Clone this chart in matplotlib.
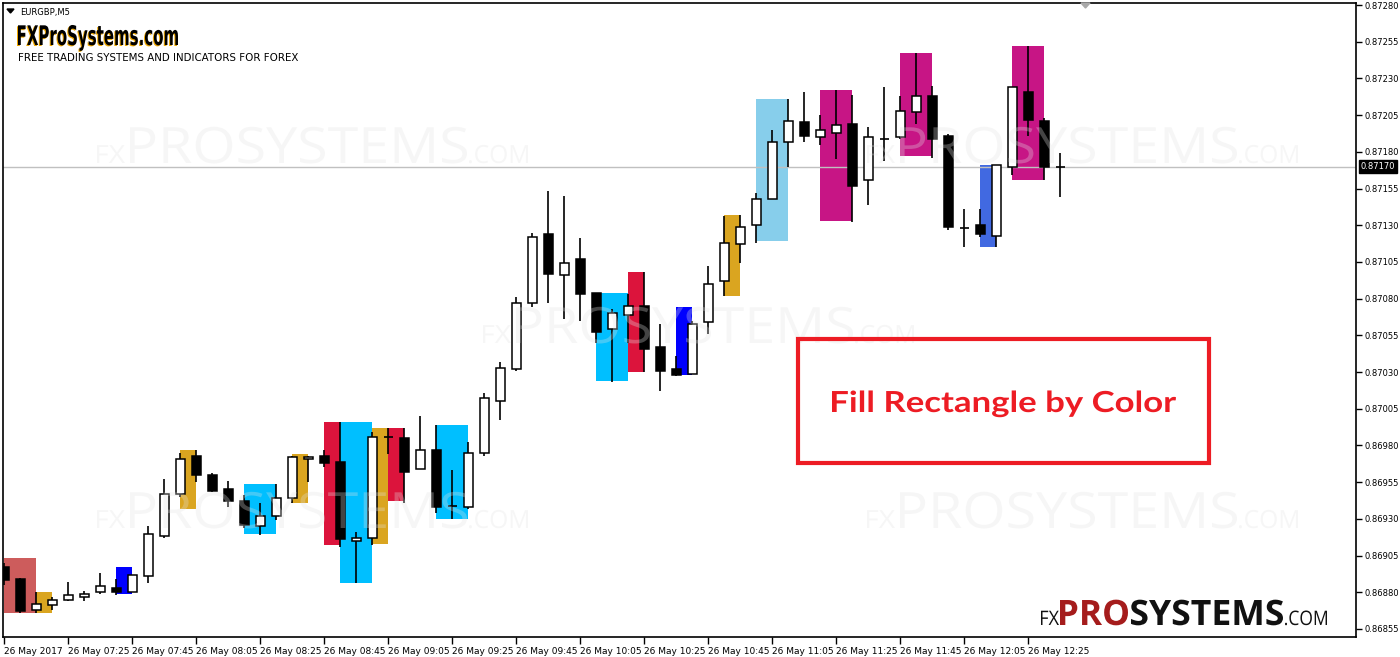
import numpy as np
import matplotlib
matplotlib.use("Agg")
import matplotlib.pyplot as plt
from matplotlib.patches import Rectangle, Polygon, PathPatch
from matplotlib.textpath import TextPath
from matplotlib.font_manager import FontProperties
from matplotlib.transforms import Affine2D

# EURGBP M5 candles, 26 May 2017 07:05 .. 12:35
opens = [0.86897, 0.86889, 0.86868, 0.86871, 0.86875, 0.86877, 0.86880, 0.86883, 0.86880, 0.86891,
         0.86918, 0.86947, 0.86973, 0.86960, 0.86950, 0.86942, 0.86925, 0.86932, 0.86944, 0.86971,
         0.86973, 0.86969, 0.86915, 0.86917, 0.86986, 0.86985, 0.86964, 0.86977, 0.86939, 0.86938,
         0.86975, 0.87010, 0.87032, 0.87077, 0.87124, 0.87096, 0.87107, 0.87084, 0.87059, 0.87069,
         0.87075, 0.87047, 0.87032, 0.87029, 0.87064, 0.87092, 0.87117, 0.87130, 0.87148, 0.87187,
         0.87200, 0.87190, 0.87193, 0.87199, 0.87161, 0.87189, 0.87190, 0.87207, 0.87218, 0.87191,
         0.87128, 0.87130, 0.87123, 0.87170, 0.87221, 0.87201, 0.87170]
highs = [0.86900, 0.86890, 0.86880, 0.86877, 0.86887, 0.86881, 0.86893, 0.86889, 0.86892, 0.86925,
         0.86957, 0.86975, 0.86977, 0.86961, 0.86956, 0.86946, 0.86941, 0.86954, 0.86973, 0.86973,
         0.86977, 0.86996, 0.86921, 0.86989, 0.86992, 0.86992, 0.87000, 0.86994, 0.86963, 0.86982,
         0.87016, 0.87037, 0.87081, 0.87125, 0.87153, 0.87150, 0.87121, 0.87084, 0.87073, 0.87083,
         0.87098, 0.87063, 0.87041, 0.87065, 0.87102, 0.87136, 0.87137, 0.87152, 0.87195, 0.87216,
         0.87221, 0.87205, 0.87222, 0.87219, 0.87197, 0.87224, 0.87218, 0.87247, 0.87225, 0.87192,
         0.87141, 0.87141, 0.87171, 0.87224, 0.87252, 0.87203, 0.87179]
lows = [0.86885, 0.86866, 0.86866, 0.86868, 0.86874, 0.86874, 0.86879, 0.86878, 0.86880, 0.86886,
        0.86917, 0.86945, 0.86955, 0.86948, 0.86938, 0.86924, 0.86919, 0.86929, 0.86941, 0.86955,
        0.86965, 0.86911, 0.86886, 0.86912, 0.86974, 0.86941, 0.86964, 0.86934, 0.86930, 0.86937,
        0.86973, 0.86997, 0.87031, 0.87074, 0.87077, 0.87066, 0.87065, 0.87050, 0.87023, 0.87050,
        0.87030, 0.87017, 0.87027, 0.87029, 0.87056, 0.87082, 0.87104, 0.87118, 0.87148, 0.87170,
        0.87187, 0.87185, 0.87175, 0.87132, 0.87144, 0.87174, 0.87189, 0.87199, 0.87176, 0.87127,
        0.87115, 0.87122, 0.87115, 0.87164, 0.87191, 0.87161, 0.87149]
closes = [0.86888, 0.86867, 0.86872, 0.86875, 0.86878, 0.86879, 0.86884, 0.86880, 0.86892, 0.86920,
          0.86947, 0.86971, 0.86960, 0.86949, 0.86942, 0.86926, 0.86932, 0.86944, 0.86972, 0.86972,
          0.86968, 0.86916, 0.86917, 0.86986, 0.86986, 0.86962, 0.86977, 0.86938, 0.86939, 0.86975,
          0.87012, 0.87033, 0.87077, 0.87122, 0.87097, 0.87104, 0.87083, 0.87057, 0.87070, 0.87075,
          0.87046, 0.87031, 0.87028, 0.87063, 0.87090, 0.87118, 0.87129, 0.87148, 0.87187, 0.87201,
          0.87191, 0.87195, 0.87198, 0.87157, 0.87190, 0.87189, 0.87208, 0.87218, 0.87189, 0.87129,
          0.87128, 0.87124, 0.87171, 0.87224, 0.87202, 0.87170, 0.87170]

# filled rectangles: start bar, end bar, low, high, colour
rect_start = [0, 2, 7, 11, 15, 18, 20, 21, 23, 24, 27, 37, 39, 42, 45, 47, 51, 56, 61, 63]
rect_end = [2, 3, 8, 12, 17, 19, 21, 23, 24, 25, 29, 39, 40, 43, 46, 49, 53, 58, 62, 65]
rect_low = [0.86866, 0.86866, 0.86879, 0.86937, 0.86920, 0.86941, 0.86912, 0.86886, 0.86913, 0.86942,
            0.86930, 0.87024, 0.87030, 0.87028, 0.87082, 0.87119, 0.87133, 0.87177, 0.87115, 0.87161]
rect_high = [0.86903, 0.86880, 0.86897, 0.86977, 0.86954, 0.86974, 0.86996, 0.86996, 0.86992, 0.86992,
             0.86994, 0.87084, 0.87098, 0.87074, 0.87137, 0.87216, 0.87222, 0.87247, 0.87171, 0.87252]
rect_colors = ["#CD5C5C", "#DAA520", "#0000FF", "#DAA520", "#00BFFF", "#DAA520", "#DC143C", "#00BFFF",
               "#DAA520", "#DC143C", "#00BFFF", "#00BFFF", "#DC143C", "#0000FF", "#DAA520", "#87CEEB",
               "#C71585", "#C71585", "#4169E1", "#C71585"]

time_ticks = [0, 4, 8, 12, 16, 20, 24, 28, 32, 36, 40, 44, 48, 52, 56, 60, 64]
time_labels = ["26 May 2017", "26 May 07:25", "26 May 07:45", "26 May 08:05", "26 May 08:25",
               "26 May 08:45", "26 May 09:05", "26 May 09:25", "26 May 09:45", "26 May 10:05",
               "26 May 10:25", "26 May 10:45", "26 May 11:05", "26 May 11:25", "26 May 11:45",
               "26 May 12:05", "26 May 12:25"]
price_ticks = [0.86855 + 0.00025 * k for k in range(18)]
last_price = 0.87170

W, H = 1400, 657


def fx(px):
    return px / W


def fy(py):
    return 1 - py / H


fig = plt.figure(figsize=(14, 6.57), dpi=100)
ax = fig.add_axes([fx(3), fy(637), fx(1353), 634 / H])


def path_text(s, x, base, size, width, family="DejaVu Sans", weight="normal", zorder=6, **kw):
    # text as a path, stretched to the pixel width seen in the screenshot
    tp = TextPath((0, 0), s, size=size, prop=FontProperties(family=family, weight=weight))
    ext = tp.get_extents()
    sx = width / ext.width
    tr = Affine2D().scale(sx, 1).translate(x - ext.x0 * sx, H - base)
    fig.add_artist(PathPatch(tp, transform=tr, lw=0, zorder=zorder, **kw))


for s, e, lo, hi, c in zip(rect_start, rect_end, rect_low, rect_high, rect_colors):
    ax.add_patch(Rectangle((s, lo), e - s, hi - lo, facecolor=c, edgecolor="none", zorder=1))

ax.axhline(last_price, color="#c0c0c0", lw=1, zorder=2)

bw = 0.57
for i, (o, h, l, c) in enumerate(zip(opens, highs, lows, closes)):
    ax.vlines(i, l, h, color="black", lw=1.2, zorder=3)
    if abs(c - o) < 1e-7:
        ax.hlines(o, i - bw / 2, i + bw / 2, color="black", lw=1.2, zorder=4)
    else:
        fc = "white" if c > o else "black"
        ax.add_patch(Rectangle((i - bw / 2, min(o, c)), bw, abs(c - o), facecolor=fc,
                               edgecolor="black", lw=1.1, zorder=4))

ax.set_xlim(-0.081, 84.48)
ax.set_ylim(0.868495, 0.872814)
for sp in ax.spines.values():
    sp.set_linewidth(1.2)
    sp.set_color("black")

ax.yaxis.tick_right()
ax.set_yticks(price_ticks)
ax.set_yticklabels([f"{p:.5f}" for p in price_ticks])
ax.tick_params(axis="y", direction="out", length=4, labelsize=6, pad=2, width=1)
ax.set_xticks(time_ticks)
ax.set_xticklabels(time_labels)
ax.tick_params(axis="x", direction="out", length=5, labelsize=6.5, pad=2, width=1)
for lab in ax.get_xticklabels():
    lab.set_horizontalalignment("left")

ax.annotate(f"{last_price:.5f}", xy=(1.0, last_price), xycoords=("axes fraction", "data"),
            xytext=(3.5, 0), textcoords="offset points", va="center", ha="left",
            fontsize=6, color="white",
            bbox=dict(boxstyle="square,pad=0.2", fc="black", ec="black"))

# header
fig.add_artist(Polygon([[fx(7), fy(9)], [fx(14), fy(9)], [fx(10.5), fy(13)]],
                       closed=True, transform=fig.transFigure, color="black"))
fig.add_artist(Polygon([[fx(1081), fy(3)], [fx(1090), fy(3)], [fx(1085.5), fy(8)]],
                       closed=True, transform=fig.transFigure, color="#a9a9a9"))
fig.text(fx(20), fy(12), "EURGBP,M5", fontsize=6, va="center", ha="left")
path_text("FXProSystems.com", 17, 46, 27, 160, weight="bold", facecolor="#f0a800")
path_text("FXProSystems.com", 18, 45, 27, 160, weight="bold", facecolor="black", zorder=7)
fig.text(fx(18), fy(61), "FREE TRADING SYSTEMS AND INDICATORS FOR FOREX", fontsize=7.4,
         va="baseline", ha="left")

# watermarks
wm_x = [97, 867, 483, 97, 867]
wm_y = [163, 163, 343, 528, 528]
for x0, y0 in zip(wm_x, wm_y):
    kw = dict(facecolor="#e2e2e2", alpha=0.3, family="Open Sans", zorder=5)
    path_text("FX", x0, y0, 25, 28, **kw)
    path_text("PROSYSTEMS", x0 + 33, y0, 50, 337, **kw)
    path_text(".COM", x0 + 372, y0, 25, 59, **kw)

# red annotation box
fig.add_artist(Rectangle((fx(798), fy(463)), fx(411), 124 / H, transform=fig.transFigure,
                         fill=False, edgecolor="#ED1C24", lw=3, zorder=6))
path_text("Fill Rectangle by Color", 832, 412, 29, 344, family="Lato", weight="bold",
          facecolor="#ED1C24", zorder=7)

# logo bottom right
path_text("FX", 1041, 625, 20, 18, family="Open Sans", facecolor="#111111")
path_text("PRO", 1060, 625, 35, 68, family="Open Sans", weight="bold", facecolor="#A51C1C")
path_text("SYSTEMS", 1131, 625, 35, 152, family="Open Sans", weight="bold", facecolor="#111111")
path_text(".COM", 1285, 625, 20, 42, family="Open Sans", facecolor="#111111")

fig.savefig("out.png", dpi=100)
